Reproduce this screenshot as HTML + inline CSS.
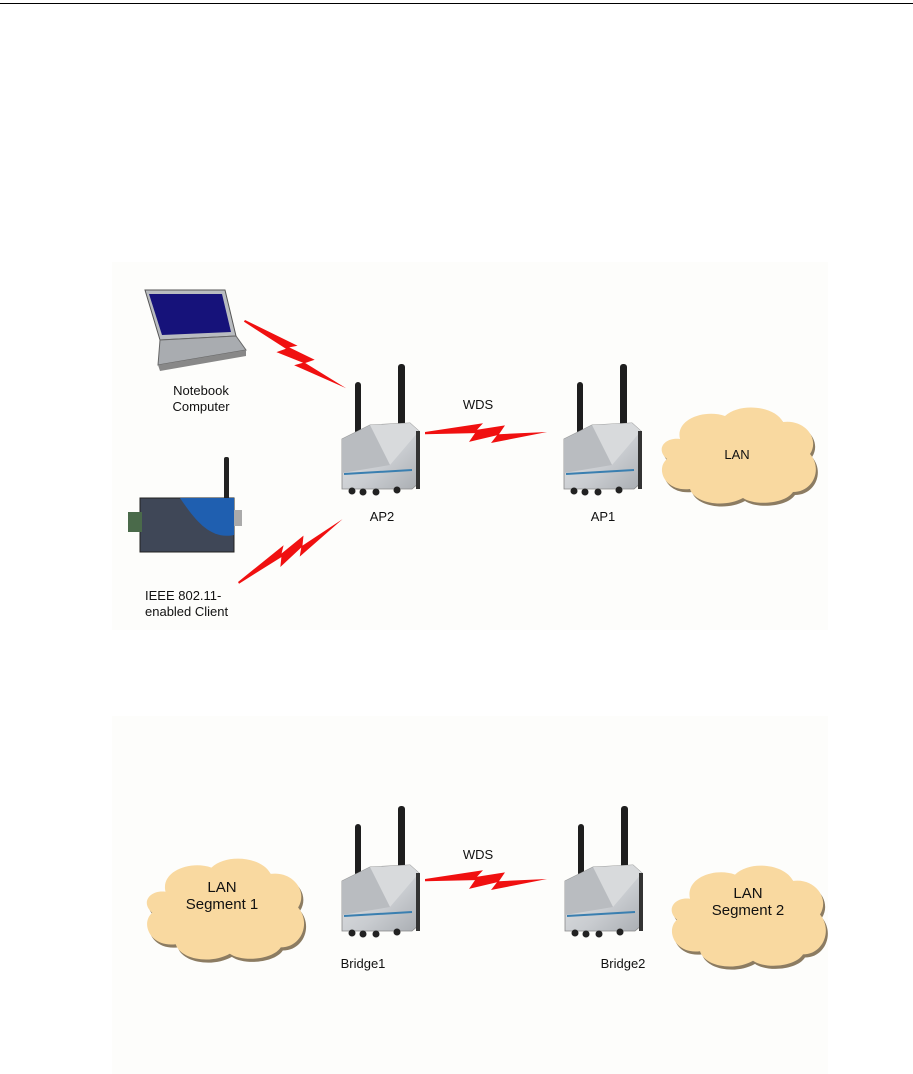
<!DOCTYPE html>
<html><head><meta charset="utf-8"><style>
html,body{margin:0;padding:0;background:#fff;}
svg{display:block;}
text{font-family:"Liberation Sans",sans-serif;fill:#111;}
</style></head><body>
<svg width="913" height="1074" viewBox="0 0 913 1074" xmlns="http://www.w3.org/2000/svg">
<defs>
<linearGradient id="bg" x1="0" y1="0" x2="1" y2="1">
<stop offset="0" stop-color="#e4e6e8"/><stop offset="0.6" stop-color="#c9ccd0"/><stop offset="1" stop-color="#a9adb2"/>
</linearGradient>
<g id="dev">
<rect x="25" y="27" width="6" height="52" rx="3" fill="#1e1e1e"/>
<rect x="68" y="9" width="7" height="62" rx="3" fill="#1e1e1e"/>
<polygon points="12,84 40,70 80,68 89,76 89,128 82,134 12,134" fill="url(#bg)" stroke="#888" stroke-width="0.8"/>
<polygon points="40,70 80,68 89,76 60,110" fill="#d8dadc"/>
<polygon points="12,84 40,70 60,110 12,118" fill="#b9bcc0"/>
<line x1="14" y1="119" x2="82" y2="115" stroke="#3a7fb0" stroke-width="2"/>
<rect x="86" y="76" width="4" height="58" fill="#333"/>
<circle cx="22" cy="136" r="3.5" fill="#222"/><circle cx="33" cy="137" r="3.5" fill="#222"/><circle cx="46" cy="137" r="3.5" fill="#222"/><circle cx="67" cy="135" r="3.5" fill="#222"/>
</g>
<path id="cp" d="M25,35 C20,15 50,5 70,12 C85,-2 120,2 128,18 C150,15 165,35 155,50 C168,65 158,88 138,88 C130,100 100,102 88,94 C70,104 40,100 35,85 C10,88 0,65 12,55 C0,45 10,33 25,35 Z"/>
<g id="cloud">
<use href="#cp" fill="#8c7c62" transform="translate(2,3)"/>
<use href="#cp" fill="#f9d9a0"/>
</g>
<polygon id="bolt" points="0,0 58,-8 52,-2 80,-6 74,2 122,0 66,10 72,3 44,9 50,1 0,2" fill="#f01010"/>
</defs>
<rect width="913" height="1074" fill="#fff"/>
<line x1="0" y1="3.5" x2="913" y2="3.5" stroke="#000" stroke-width="1"/>
<rect x="112" y="262" width="716" height="368" fill="#fdfdfb"/>
<rect x="112" y="716" width="716" height="358" fill="#fdfdfb"/>

<!-- laptop -->
<polygon points="145,290 225,290 236,336 160,340" fill="#b9bcc0" stroke="#555" stroke-width="1"/>
<polygon points="149,294 222,294 231,332 162,335" fill="#16127a"/>
<polygon points="160,340 236,336 246,350 158,365" fill="#a9acb0" stroke="#666" stroke-width="1"/>
<polygon points="158,365 246,350 246,356 160,371" fill="#888"/>
<text x="201" y="395" font-size="13" text-anchor="middle">Notebook</text>
<text x="201" y="411" font-size="13" text-anchor="middle">Computer</text>

<!-- client -->
<rect x="224" y="457" width="5" height="50" rx="2" fill="#222"/>
<rect x="140" y="498" width="94" height="54" fill="#3f4757" stroke="#222"/>
<path d="M180,498 L234,498 L234,535 C210,540 195,520 180,498 Z" fill="#1f5fb0"/>
<rect x="128" y="512" width="14" height="20" fill="#4a6a4a"/>
<rect x="234" y="510" width="8" height="16" fill="#aaa"/>
<text x="145" y="600" font-size="13">IEEE 802.11-</text>
<text x="145" y="616" font-size="13">enabled Client</text>

<!-- bolts -->
<use href="#bolt" transform="translate(245,320) rotate(34)"/>
<use href="#bolt" transform="translate(238,582) rotate(-31)"/>
<use href="#bolt" transform="translate(425,432) scale(1.0,1.1)"/>
<use href="#bolt" transform="translate(425,879) scale(1.0,1.1)"/>

<use href="#dev" x="330" y="355"/>
<use href="#dev" x="552" y="355"/>
<use href="#dev" x="330" y="797"/>
<use href="#dev" x="553" y="797"/>

<text x="478" y="409" font-size="13" text-anchor="middle">WDS</text>
<text x="382" y="521" font-size="13" text-anchor="middle">AP2</text>
<text x="603" y="521" font-size="13" text-anchor="middle">AP1</text>

<use href="#cloud" x="655" y="404"/>
<text x="737" y="459" font-size="13" text-anchor="middle">LAN</text>

<text x="478" y="859" font-size="13" text-anchor="middle">WDS</text>
<use href="#cloud" transform="translate(140,855) scale(1.02,1.05)"/>
<text x="222" y="892" font-size="15" text-anchor="middle">LAN</text>
<text x="222" y="909" font-size="15" text-anchor="middle">Segment 1</text>
<use href="#cloud" transform="translate(665,862) scale(1.0,1.05)"/>
<text x="748" y="898" font-size="15" text-anchor="middle">LAN</text>
<text x="748" y="915" font-size="15" text-anchor="middle">Segment 2</text>
<text x="363" y="968" font-size="13" text-anchor="middle">Bridge1</text>
<text x="623" y="968" font-size="13" text-anchor="middle">Bridge2</text>
</svg>
</body></html>
